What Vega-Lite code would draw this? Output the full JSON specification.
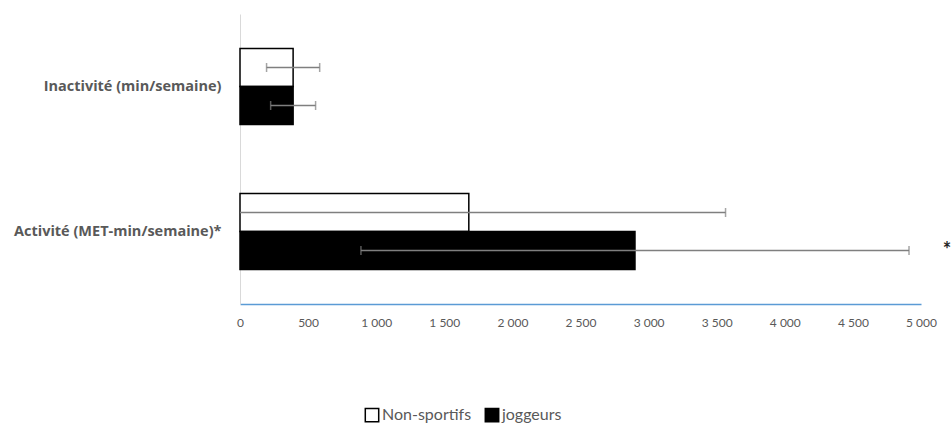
{
  "$schema": "https://vega.github.io/schema/vega-lite/v6.json",
  "autosize": "none",
  "width": 681,
  "height": 290,
  "padding": {"left": 240, "top": 14, "right": 30, "bottom": 121},
  "background": "white",
  "config": {
    "font": "Lato",
    "view": {"stroke": null},
    "axis": {"grid": false, "ticks": false, "title": null}
  },
  "data": {
    "values": [
      {"indicateur": "Inactivité (min/semaine)", "groupe": "Non-sportifs", "moyenne": 390, "bas": 195, "haut": 585, "note": ""},
      {"indicateur": "Inactivité (min/semaine)", "groupe": "joggeurs", "moyenne": 390, "bas": 225, "haut": 555, "note": ""},
      {"indicateur": "Activité (MET-min/semaine)*", "groupe": "Non-sportifs", "moyenne": 1680, "bas": -205, "haut": 3565, "note": ""},
      {"indicateur": "Activité (MET-min/semaine)*", "groupe": "joggeurs", "moyenne": 2900, "bas": 888, "haut": 4912, "note": "*"}
    ]
  },
  "encoding": {
    "y": {
      "field": "indicateur",
      "type": "nominal",
      "sort": ["Inactivité (min/semaine)", "Activité (MET-min/semaine)*"],
      "scale": {"paddingInner": 0.476, "paddingOuter": 0.238},
      "axis": {
        "domainColor": "#d9d9d9",
        "domainWidth": 1,
        "labelFont": "Open Sans",
        "labelFontSize": 14.5,
        "labelFontWeight": "bold",
        "labelColor": "#595959",
        "labelPadding": 19,
        "labelLimit": 0
      }
    },
    "yOffset": {
      "field": "groupe",
      "type": "nominal",
      "sort": ["Non-sportifs", "joggeurs"],
      "scale": {"paddingInner": 0, "paddingOuter": 0}
    }
  },
  "layer": [
    {
      "mark": {"type": "bar", "stroke": "black", "strokeWidth": 1.5},
      "encoding": {
        "x": {
          "field": "moyenne",
          "type": "quantitative",
          "scale": {"domain": [0, 5000], "nice": false},
          "axis": {
            "values": [0, 500, 1000, 1500, 2000, 2500, 3000, 3500, 4000, 4500, 5000],
            "labelExpr": "replace(format(datum.value, ','), ',', ' ')",
            "domainColor": "#5b9bd5",
            "domainWidth": 1.5,
            "labelFontSize": 12,
            "labelColor": "#595959",
            "labelPadding": 13,
            "labelFlush": false
          }
        },
        "color": {
          "field": "groupe",
          "type": "nominal",
          "scale": {"domain": ["Non-sportifs", "joggeurs"], "range": ["white", "black"]},
          "legend": {
            "title": null,
            "orient": "none",
            "direction": "horizontal",
            "legendX": 124,
            "legendY": 393,
            "padding": 0,
            "symbolType": "square",
            "symbolSize": 180,
            "symbolStrokeColor": "black",
            "symbolStrokeWidth": 1.5,
            "labelFontSize": 16,
            "labelColor": "#595959",
            "labelOffset": 2,
            "columnPadding": 10
          }
        }
      }
    },
    {
      "mark": {"type": "rule", "color": "#7f7f7f", "strokeWidth": 1.5, "clip": true},
      "encoding": {
        "x": {"field": "bas", "type": "quantitative"},
        "x2": {"field": "haut"}
      }
    },
    {
      "mark": {"type": "tick", "color": "#7f7f7f", "thickness": 1.5, "size": 9, "clip": true},
      "encoding": {"x": {"field": "bas", "type": "quantitative"}}
    },
    {
      "mark": {"type": "tick", "color": "#7f7f7f", "thickness": 1.5, "size": 9, "clip": true},
      "encoding": {"x": {"field": "haut", "type": "quantitative"}}
    },
    {
      "transform": [{"filter": "datum.note != ''"}],
      "mark": {"type": "text", "fontSize": 20, "fontWeight": "bold", "color": "#262626", "dx": 26, "dy": 1, "align": "center", "baseline": "middle"},
      "encoding": {
        "x": {"datum": 5000, "type": "quantitative"},
        "text": {"field": "note"}
      }
    }
  ]
}
